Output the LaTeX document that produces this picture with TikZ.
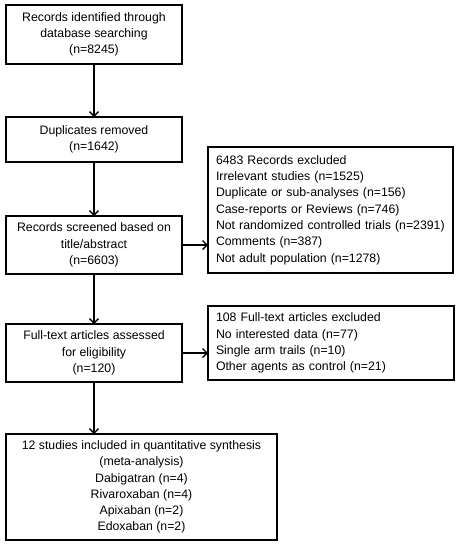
\documentclass[tikz,border=0pt]{standalone}
\usepackage{fontspec}
\setmainfont{Liberation Sans}
\usetikzlibrary{arrows.meta}
\begin{document}
\begin{tikzpicture}[x=1pt,y=1pt,
  box/.style={draw=black, line width=1.6pt, fill=white, inner sep=0pt, outer sep=0pt,
    align=center, font=\fontsize{12.3}{16.3}\selectfont},
  exbox/.style={draw=black, line width=1.6pt, fill=white, inner xsep=8pt, inner ysep=0pt, outer sep=0pt,
    align=left, font=\fontsize{12.3}{16.3}\selectfont},
  arr/.style={line width=1.3pt, -{Straight Barb[length=4.5pt,width=9pt,line width=1.3pt]}}]
\useasboundingbox (0,0) rectangle (459,-546);
\node[box, minimum width=176, minimum height=59] (b1) at (94,-34.5)
  {Records identified through\\database searching\\(n=8245)};
\node[box, minimum width=176, minimum height=45] (b2) at (94,-139.5)
  {Duplicates removed\\(n=1642)};
\node[box, minimum width=176, minimum height=58] (b3) at (94,-245)
  {Records screened based on\\title/abstract\\(n=6603)};
\node[box, minimum width=176, minimum height=58] (b4) at (94,-353)
  {Full-text articles assessed\\for eligibility\\(n=120)};
\node[box, minimum width=271, minimum height=106] (b5) at (141.5,-487)
  {12 studies included in quantitative synthesis\\(meta-analysis)\\Dabigatran (n=4)\\Rivaroxaban (n=4)\\Apixaban (n=2)\\Edoxaban (n=2)};
\node[exbox, text width=229, minimum height=126] (e1) at (330.5,-210)
  {6483 Records excluded\\Irrelevant studies (n=1525)\\Duplicate or sub-analyses (n=156)\\Case-reports or Reviews (n=746)\\Not randomized controlled trials (n=2391)\\Comments (n=387)\\Not adult population (n=1278)};
\node[exbox, text width=230, minimum height=74] (e2) at (331,-343)
  {108 Full-text articles excluded\\No interested data (n=77)\\Single arm trails (n=10)\\Other agents as control (n=21)};
\draw[arr] (b1.south) -- (b2.north);
\draw[arr] (b2.south) -- (b3.north);
\draw[arr] (b3.south) -- (b4.north);
\draw[arr] (b4.south) -- (b4.south |- b5.north);
\draw[arr] (b3.east) -- (b3.east -| e1.west);
\draw[arr] (b4.east) -- (b4.east -| e2.west);
\end{tikzpicture}
\end{document}
